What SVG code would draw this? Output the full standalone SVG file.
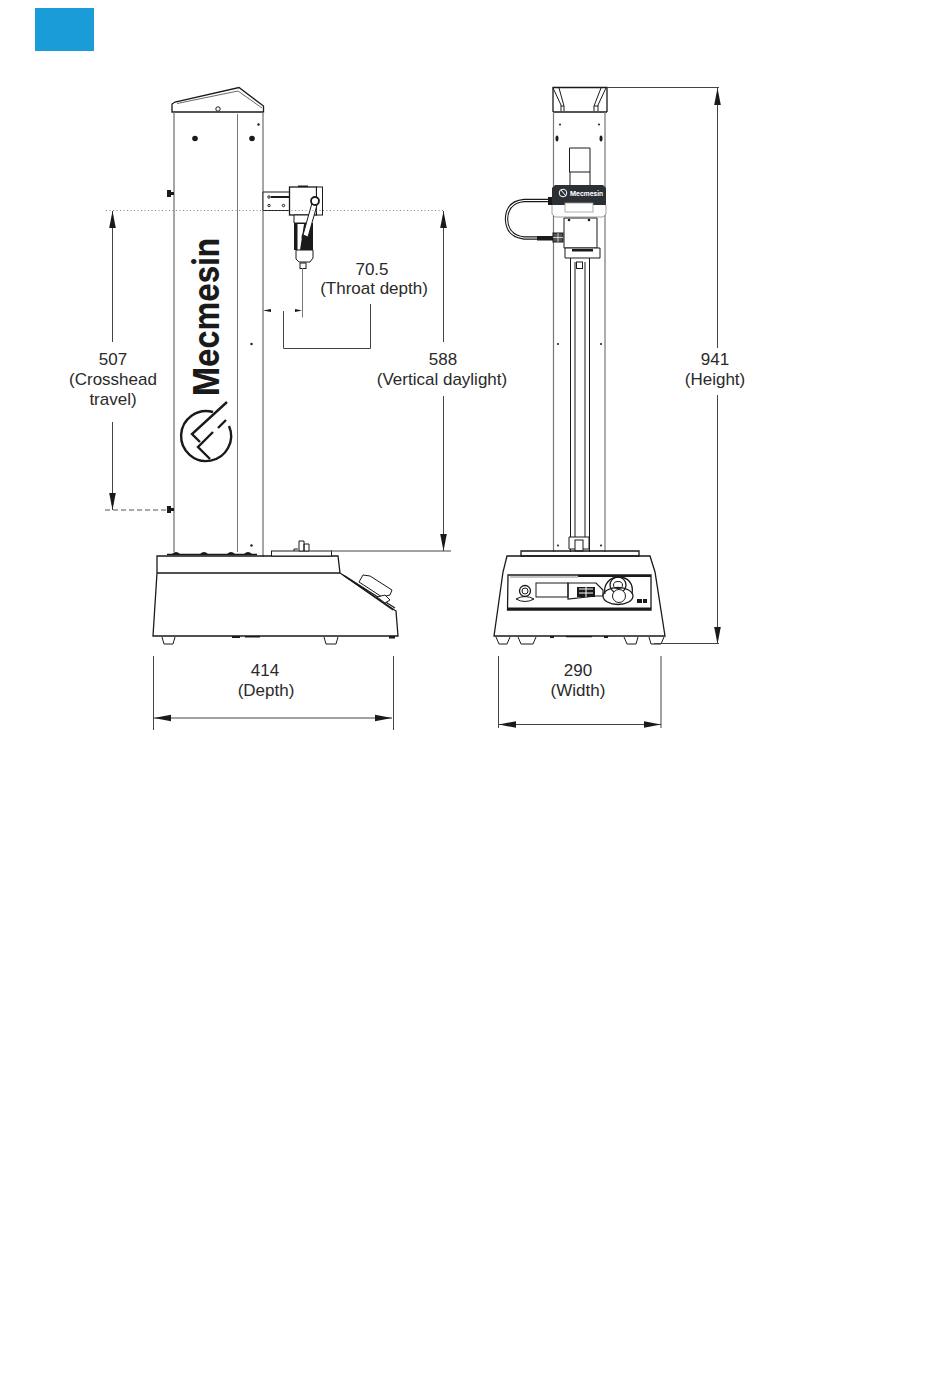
<svg xmlns="http://www.w3.org/2000/svg" width="950" height="1379" viewBox="0 0 950 1379">
<style>
.l{fill:none;stroke:#1a1a1a;stroke-width:1}
.g{fill:none;stroke:#777;stroke-width:1}
.m{fill:none;stroke:#444;stroke-width:1}
.h{fill:none;stroke:#1a1a1a;stroke-width:1.300}
.w{fill:#fff;stroke:#1a1a1a;stroke-width:1}
.d{fill:#1a1a1a}
.t{font-family:"Liberation Sans",Arial,sans-serif;font-size:17px;fill:#2a2a2a;text-anchor:middle}
</style>
<defs>
<marker id="a" markerWidth="18" markerHeight="8" refX="17" refY="4" orient="auto-start-reverse" markerUnits="userSpaceOnUse"><path d="M0 0.700L17 4L0 7.300Z" fill="#1a1a1a"/></marker>
</defs>
<rect id="badge" x="35" y="8" width="59" height="43" fill="#1a9cd8"/>
<g id="side-view">
<path class="h" d="M172 112V104L175 102L239 87.500L263.500 106V112H172Z"/>
<path class="m" d="M177 103.500L238 91L262 108" style="stroke-width:.8"/>
<circle cx="218" cy="109" r="2.200" fill="#fff" stroke="#1a1a1a"/>
<path class="g" style="stroke-width:1.300" d="M174 112V552"/>
<path class="g" d="M237.500 114V552"/>
<path class="g" style="stroke-width:1.300" d="M263 112V557"/>
<circle class="d" cx="195" cy="138.500" r="2.800"/><circle class="d" cx="252" cy="138.500" r="2.800"/>
<circle class="d" cx="258.500" cy="124.500" r="1.200"/><circle class="d" cx="251.500" cy="344" r="1.200"/><circle class="d" cx="251.500" cy="545.500" r="1.200"/>
<path class="d" d="M167 190H171V192H174V195H171V197H167Z"/>
<path class="d" d="M167 506H171V508H174V511H171V513H167Z"/>
<text x="219" y="396" transform="rotate(-90 219 396)" font-family="Inter,'Liberation Sans',sans-serif" font-size="36" font-weight="700" fill="#1a1a1a" textLength="158" lengthAdjust="spacingAndGlyphs">Mecmesin</text>
<g fill="none" stroke="#1a1a1a" stroke-width="2.400">
<path d="M213 412A25 25 0 1 0 229 426"/>
<path d="M227 402L192 434L200 442M226 420L218 428M213 432L198 447L210 459"/>
</g>
<path class="w" d="M263 192H290V210.500H263Z"/>
<path class="d" d="M271 196H290V198H271Z"/>
<circle class="w" cx="269" cy="197" r="1.200"/><circle class="w" cx="269" cy="205.500" r="1.200"/><circle class="w" cx="283.500" cy="205.500" r="1.200"/>
<path class="d" d="M298 185.500H308V187.500H298Z"/>
<rect class="w" x="289.500" y="187" width="27" height="28" style="stroke-width:1.300"/>
<rect class="w" x="316.500" y="187" width="6" height="28"/>
<path class="w" d="M294 215H311V223H294Z"/>
<path class="d" d="M294 223H313V250H294Z"/>
<path d="M297.500 224H304L300 250H297.500Z" fill="#fff"/>
<path class="w" d="M296 250H313V258L310 262H299L296 259Z"/>
<rect class="w" x="300" y="263" width="6" height="5.500"/>
<circle cx="306" cy="237" r="4.500" fill="#1a1a1a"/>
<path fill="#fff" stroke="#1a1a1a" stroke-width="1" d="M312 203L317 205L308 237L303 235Z"/>
<circle cx="315" cy="201" r="4" fill="#fff" stroke="#1a1a1a" stroke-width="1.800"/>
<path class="h" d="M157 556H338L340 573H157ZM157 573L153 636H398L396 611L340 573"/>
<path class="l" d="M345 576L395 608M343 575L393 610" style="stroke-width:1.200"/>
<path class="w" d="M363 575L370 576L392 590L390 595L382 597L359 582Z"/>
<path class="w" d="M377 597L385 595L390 600L385 603Z"/>
<path class="h" d="M167 554.500H257"/>
<path class="d" d="M172 554Q176 550 180 554ZM200 554Q204 550 208 554ZM227 554Q231 550 235 554ZM244 554Q248 550 252 554Z"/>
<rect class="w" x="271.500" y="551" width="60" height="5"/>
<path class="w" d="M299 541H304V551H299ZM304 544H309V551H304Z"/><path class="l" d="M294 551V549H298"/>
<path class="l" d="M162 637L164 644H173L175 637M324 637L326 644H336L338 637"/>
<path class="d" d="M232 636H240V638H232ZM245 636H260V637.500H245ZM389 636H395V638.500H389Z"/>
</g>
<g id="front-view">
<path class="h" d="M553 112V87.500H607V112M553 112H607"/>
<path class="l" d="M553 88L561 105V111M559 88L564 106V111M561 106H564M606 88L598 105V111M601 88L594 106V111M594 106H598"/>
<path class="g" style="stroke-width:1.200" d="M553.500 112V552M605 112V552"/>
<circle class="d" cx="560" cy="124.500" r="1"/><circle class="d" cx="599" cy="124.500" r="1"/>
<ellipse class="d" cx="557" cy="138.500" rx="1.500" ry="3"/><ellipse class="d" cx="601" cy="138.500" rx="1.500" ry="3"/>
<circle class="d" cx="558" cy="344" r="1"/><circle class="d" cx="601" cy="344" r="1"/><circle class="d" cx="558" cy="545.500" r="1"/><circle class="d" cx="601" cy="545.500" r="1"/>
<path class="w" d="M569.500 148H590V172H569.500Z"/><path class="l" d="M570 172V185M590 172V185"/>
<path class="w" d="M564 218H597V248H564Z"/>
<circle class="d" cx="569" cy="220" r="1.300"/><circle class="d" cx="589" cy="220" r="1.300"/>
<path d="M555 185H603L606 188V205H552V188Z" fill="#2c2f33"/>
<path d="M552 205V214L555 217H603L606 214V205" fill="#fff" stroke="#888" stroke-width=".8"/>
<rect x="565" y="203" width="28" height="9" fill="#fff" stroke="#999" stroke-width=".8"/>
<circle cx="563" cy="193" r="3.800" fill="none" stroke="#fff"/><path d="M561 190L566 196" stroke="#fff"/>
<text x="570" y="196" font-family="Inter,'Liberation Sans',sans-serif" font-size="6.500" font-weight="700" fill="#fff">Mecmesin</text>
<path d="M549 200.500H524Q507 202 506.500 219Q507 236 524 238H537" fill="none" stroke="#1a1a1a" stroke-width="3.400"/>
<path d="M549 200.500H524Q507 202 506.500 219Q507 236 524 238H537" fill="none" stroke="#fff" stroke-width="1.200"/>
<rect class="d" x="548" y="197" width="4" height="8"/>
<rect class="d" x="537" y="236" width="16" height="4.500"/>
<rect x="553" y="233" width="10" height="9" fill="#555" stroke="#1a1a1a"/><path d="M558 233V242M553 237.500H563" stroke="#fff" stroke-width=".7"/>
<path class="w" d="M565 248H600V258H565Z"/>
<path class="d" d="M572 249H593V251.500H572Z"/>
<rect class="w" x="576.500" y="262" width="6" height="6.500"/>
<path class="l" d="M570.500 258V552M575 262V540M585 262V540M589.500 258V552"/>
<path class="w" d="M569 537H589V549H569Z"/><rect class="w" x="575" y="540" width="8" height="11"/>
<path class="h" d="M521 551H639V556H521Z"/>
<path class="h" d="M507 556H650L655 572L665 636H494L503 572Z"/>
<path class="m" d="M510 577H578" style="stroke:#888"/>
<path class="h" d="M508 575H651V610H507.500Z"/>
<path d="M508 607.500H651V610H508ZM578 575H651V577H578Z" fill="#1a1a1a"/>
<rect class="l" x="536" y="583" width="32" height="14"/>
<circle cx="525" cy="591" r="5.500" class="h"/><circle cx="525" cy="591" r="3" class="l"/>
<path class="l" d="M516 599Q525 594 534 599Q525 604 516 599Z"/>
<path class="h" d="M568 583H596L603 590V596H596L568 599Z" style="stroke-width:1.200"/>
<path class="d" d="M577 587H595V597H577Z"/><path d="M579 589H593M579 593H593M586 587V597" stroke="#fff" stroke-width="1"/>
<ellipse class="w" cx="618" cy="596" rx="15" ry="8.500" style="stroke-width:1.300"/>
<path class="h" d="M605 594C603 584 610 577 619 577C628 577 634 584 632 594"/>
<circle class="h" cx="618" cy="585" r="8"/><ellipse class="l" cx="618" cy="585" rx="4.500" ry="3.500"/>
<circle class="w" cx="619" cy="596" r="6.500"/>
<path class="d" d="M637 599H642V603H637ZM643 599H647V603H643Z"/>
<path class="l" d="M496 637L499 644H507L510 637M518 637L521 644H533L536 637M624 637L627 644H636L638 637M649 637L651 644H661L664 637"/>
<path class="d" d="M550 636H554V638H550ZM566 636H592V637.200H566ZM604 636H608V638H604Z"/>
</g>
<g id="connectors">
<path d="M106 210.500H443" stroke="#666" stroke-width=".8" stroke-dasharray="1 2.500" fill="none"/>
<path d="M105 510H167" stroke="#555" stroke-width="1" stroke-dasharray="5 3" fill="none"/>
<path class="m" d="M112.500 342V211" marker-end="url(#a)"/>
<path class="m" d="M112.500 422V510" marker-end="url(#a)"/>
<path class="m" d="M443.500 342V211" marker-end="url(#a)"/>
<path class="m" d="M443.500 396V551" marker-end="url(#a)"/>
<path class="m" d="M331 551H451"/>
<path class="m" d="M717.500 348V88" marker-end="url(#a)"/>
<path class="m" d="M717.500 395V644" marker-end="url(#a)"/>
<path class="m" d="M607 87.500H719M654 643.500H719"/>
<path class="g" d="M302.500 268V317.500"/>
<path class="d" d="M263 310.500L271 309V312ZM302 310.500L295 309V312Z"/>
<path class="m" d="M283.500 311V348.500H370.500V304"/>
<path class="m" d="M153.500 656V730M393.500 656V730M498.500 656V728M661 656V728"/>
<path class="m" d="M154 718H392" marker-start="url(#a)" marker-end="url(#a)"/>
<path class="m" d="M499 724.500H661" marker-start="url(#a)" marker-end="url(#a)"/>
</g>
<g id="labels">
<text class="t" x="113" y="365">507</text><text class="t" x="113" y="385">(Crosshead</text><text class="t" x="113" y="405">travel)</text>
<text class="t" x="372" y="275">70.5</text><text class="t" x="374" y="294">(Throat depth)</text>
<text class="t" x="443" y="365">588</text><text class="t" x="442" y="385">(Vertical daylight)</text>
<text class="t" x="715" y="365">941</text><text class="t" x="715" y="385">(Height)</text>
<text class="t" x="265" y="676">414</text><text class="t" x="266" y="696">(Depth)</text>
<text class="t" x="578" y="676">290</text><text class="t" x="578" y="696">(Width)</text>
</g>
</svg>
